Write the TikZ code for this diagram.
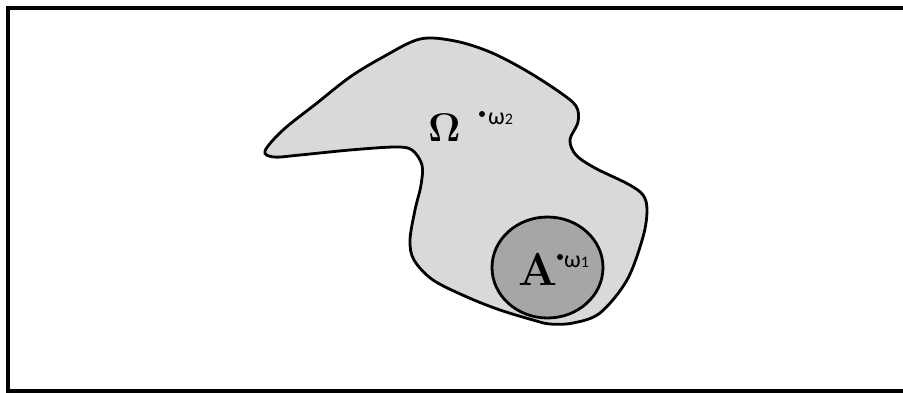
\documentclass[tikz,border=0pt]{standalone}
\usepackage{fontspec}
\newfontfamily\omegafont{Carlito}
\begin{document}
\begin{tikzpicture}[x=1pt,y=-1pt,
  frameline/.style={line width=4pt},
  regionshape/.style={draw=black,line width=2.8pt,fill=omegagray},
  setshape/.style={draw=black,line width=2.8pt,fill=agray},
  bigletter/.style={font=\bfseries\fontsize{#1}{#1}\selectfont,inner sep=0pt,anchor=base},
  pointdot/.style={circle,fill=black,inner sep=0pt,minimum size=6pt},
  pointlabel/.style={font=\omegafont\fontsize{24}{24}\selectfont,inner sep=0pt,anchor=base west}]
\definecolor{omegagray}{HTML}{D9D9D9}
\definecolor{agray}{HTML}{A6A6A6}
\useasboundingbox (0,0) rectangle (903,392);
\draw[frameline] (903,8) -- (8,8) -- (8,390.5) -- (903,390.5);
% region Omega
\draw[regionshape] plot[smooth cycle,tension=0.55] coordinates{
(265,151) (283,130) (317,103) (350,77) (383,57) (420,39) (455,41) (490,52)
(525,70) (558,91) (576,106) (578,122) (570,140) (576,155) (595,168) (628,184)
(643,195) (647,210) (643,237) (627,280) (600,313) (573,323) (550,324)
(533,320) (500,310) (467,297) (433,280) (414,260) (410,240) (415,210)
(421,185) (422,165) (412,150) (395,147) (350,150) (300,155) (274,157)};
% set A
\draw[setshape] (547.5,267.5) ellipse [x radius=55.5,y radius=50.5];
% labels
\node[bigletter=40] (omega) at (444.5,141) {Ω};
\node[bigletter=46] (aset) at (538,285) {A};
\node[pointdot] (w2) at (482,114) {};
\node[pointlabel] (w2l) at (488,124) {ω\fontsize{16}{16}\selectfont 2};
\node[pointdot] (w1) at (560,257) {};
\node[pointlabel] (w1l) at (564,267) {ω\fontsize{16}{16}\selectfont 1};
\end{tikzpicture}
\end{document}
